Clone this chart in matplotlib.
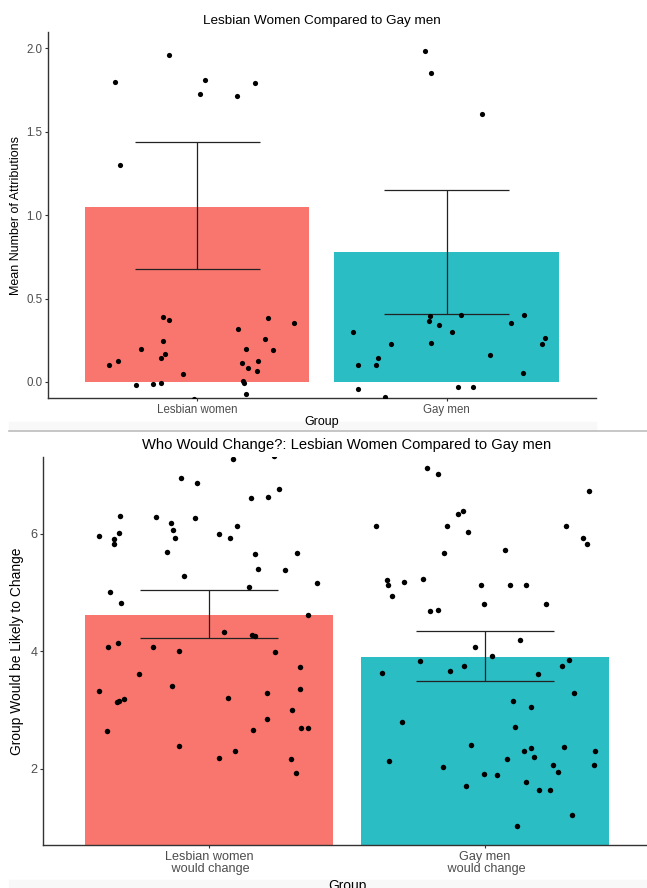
import matplotlib
matplotlib.use("Agg")
import matplotlib.pyplot as plt
from matplotlib.patches import Rectangle
from matplotlib.lines import Line2D
import numpy as np

plt.rcParams["font.family"] = ["Liberation Sans", "DejaVu Sans"]

W, H = 647, 888
RED = "#F8766D"
TEAL = "#2BBDC4"

# ── top panel: mean number of attributions ──
top_groups = ["Lesbian women", "Gay men"]
top_means = [1.05, 0.78]
top_lower = [0.68, 0.406]
top_upper = [1.44, 1.153]

top_lw_dx = [-0.331, -0.114, 0.029, 0.011, 0.160, 0.232, -0.312,
             -0.355, -0.318, -0.227, -0.137, -0.114, -0.138, -0.130, -0.144,
             -0.058, -0.247, -0.176, -0.144, -0.015, 0.163, 0.282, 0.386,
             0.272, 0.197, 0.304, 0.180, 0.243, 0.205, 0.240, 0.185, 0.189, 0.197]
top_lw_y = [1.797, 1.962, 1.812, 1.728, 1.715, 1.794, 1.299,
            0.100, 0.126, 0.196, 0.388, 0.374, 0.244, 0.166, 0.142,
            0.046, -0.018, -0.012, -0.008, -0.100, 0.316, 0.385, 0.356,
            0.256, 0.200, 0.194, 0.112, 0.126, 0.086, 0.068, 0.008, -0.004, -0.074]

top_gm_dx = [-0.088, -0.062, 0.143, -0.377, -0.357, -0.285, -0.274, -0.222,
             -0.355, -0.246, -0.066, -0.071, -0.031, 0.056, 0.021, -0.064,
             0.174, 0.045, 0.104, 0.258, 0.309, 0.394, 0.382, 0.307]
top_gm_y = [1.984, 1.854, 1.605, 0.302, 0.104, 0.102, 0.144, 0.226,
            -0.042, -0.092, 0.396, 0.364, 0.340, 0.400, 0.298, 0.232,
            0.160, -0.028, -0.028, 0.354, 0.400, 0.266, 0.226, 0.052]
top_yticks = [0.0, 0.5, 1.0, 1.5, 2.0]

# ── bottom panel: who would change ──
bot_groups = ["Lesbian women\n would change", "Gay men\n would change"]
bot_means = [4.615, 3.908]
bot_lower = [4.220, 3.485]
bot_upper = [5.034, 4.339]

bot_lw_dx = [-0.399, -0.345, -0.345, -0.327, -0.323, -0.359, -0.318, -0.192,
             -0.136, -0.129, -0.122, -0.153, -0.100, -0.042, -0.052, -0.091,
             0.035, 0.076, 0.103, 0.086, 0.154, 0.214, 0.255, 0.165, 0.178,
             0.146, 0.274, 0.320, 0.390, 0.357, 0.054, 0.156, 0.166, -0.366,
             -0.331, -0.204, -0.107, 0.238, 0.235,
             -0.399, -0.368, -0.332, -0.327, -0.308, -0.252, -0.134, -0.110,
             0.035, 0.069, 0.094, 0.158, 0.209, 0.212, 0.301, 0.297, 0.314,
             0.328, 0.331, 0.335, 0.359]
bot_lw_y = [5.959, 5.903, 5.824, 6.005, 6.293, 5.010, 4.819, 6.281,
            6.186, 6.056, 5.920, 5.683, 6.949, 6.869, 6.264, 5.276,
            5.993, 5.932, 6.124, 7.264, 6.610, 6.632, 6.763, 5.649, 5.390,
            5.095, 5.373, 5.666, 5.163, 4.615, 4.332, 4.271, 4.259, 4.068,
            4.141, 4.073, 4.010, 3.983, 7.330,
            3.327, 2.637, 3.129, 3.146, 3.192, 3.610, 3.400, 2.383,
            2.180, 3.197, 2.305, 2.661, 3.281, 2.847, 3.000, 2.169, 1.932,
            3.356, 3.722, 2.688, 2.688]

bot_gm_dx = [-0.211, -0.171, 0.375, -0.395, -0.137, -0.099, -0.080, -0.060,
             0.295, 0.354, 0.371, -0.149, 0.074, -0.355, -0.350, -0.295,
             -0.224, -0.337, -0.014, 0.090, 0.149, -0.005, 0.219, -0.201,
             -0.170, 0.127, -0.036, 0.024, -0.234, 0.303,
             -0.373, -0.126, -0.077, 0.193, 0.279, 0.324, 0.101, 0.167,
             -0.299, 0.108, -0.050, 0.141, 0.166, 0.285, 0.398, -0.349,
             0.080, 0.179, -0.152, -0.004, 0.044, 0.245, 0.266, 0.394,
             0.150, -0.068, 0.196, 0.234, 0.316, 0.114]
bot_gm_y = [7.112, 7.010, 6.729, 6.124, 6.124, 6.327, 6.378, 6.034,
            6.136, 5.926, 5.819, 5.678, 5.722, 5.208, 5.129, 5.180,
            5.225, 4.942, 5.124, 5.124, 5.119, 4.797, 4.797, 4.689,
            4.700, 4.186, 4.073, 3.920, 3.836, 3.847,
            3.627, 3.661, 3.739, 3.610, 3.739, 3.288, 3.146, 3.056,
            2.797, 2.712, 2.400, 2.305, 2.349, 2.373, 2.305, 2.129,
            2.169, 2.197, 2.027, 1.903, 1.886, 2.061, 1.937, 2.056,
            1.768, 1.700, 1.644, 1.632, 1.208, 1.027]
bot_yticks = [2, 4, 6]


def px_rect(left, top, right, bottom):
	"""pixel box (y down) → figure fraction [l, b, w, h]."""
	return [left / W, 1 - bottom / H, (right - left) / W, (bottom - top) / H]


def draw_panel(ax, groups, means, lower, upper, points, ylim, yticks, title, ylabel, scale):
	pos = np.arange(1, len(groups) + 1)
	ax.bar(pos, means, width=0.9, color=[RED, TEAL], zorder=1)
	ax.vlines(pos, lower, upper, color="#222222", lw=0.9, zorder=2)
	ax.hlines(lower, pos - 0.25, pos + 0.25, color="#222222", lw=0.9, zorder=2)
	ax.hlines(upper, pos - 0.25, pos + 0.25, color="#222222", lw=0.9, zorder=2)
	for p, (dx, y) in zip(pos, points):
		ax.scatter(p + np.array(dx), y, s=14 * scale, color="black", linewidths=0, zorder=3)
	ax.set_xlim(0.4, len(groups) + 0.6)
	ax.set_ylim(*ylim)
	ax.set_xticks(pos)
	ax.set_xticklabels(groups)
	ax.set_yticks(yticks)
	for side in ("top", "right"):
		ax.spines[side].set_visible(False)
	for side in ("left", "bottom"):
		ax.spines[side].set_color("#333333")
		ax.spines[side].set_linewidth(1.0)
	ax.tick_params(length=2.5, width=0.8, color="#333333", labelcolor="#4D4D4D",
		labelsize=8.3 * scale, pad=1.5)
	ax.set_title(title, fontsize=9.7 * scale, color="black", pad=6)
	ax.set_ylabel(ylabel, fontsize=9.0 * scale)
	ax.set_xlabel("Group", fontsize=9.0 * scale)


fig = plt.figure(figsize=(W / 100, H / 100), dpi=100)

# viewer strips and divider between the two screenshots
fig.patches.append(Rectangle((9 / W, 1 - 430 / H), (596 - 9) / W, 8 / H,
	transform=fig.transFigure, color="#F8F8F8", zorder=-5))
fig.patches.append(Rectangle((9 / W, 0), (W - 9) / W, 8 / H,
	transform=fig.transFigure, color="#F8F8F8", zorder=-5))
fig.lines.append(Line2D([9 / W, 1], [1 - 430.5 / H] * 2, transform=fig.transFigure,
	color="#BDBDBD", lw=1.2, zorder=-4))

ax1 = fig.add_axes(px_rect(47.7, 32, 596.2, 398.3))
ax1.patch.set_alpha(0)
draw_panel(ax1, top_groups, top_means, top_lower, top_upper,
	[(top_lw_dx, top_lw_y), (top_gm_dx, top_gm_y)],
	(-0.098, 2.098), top_yticks, "Lesbian Women Compared to Gay men",
	"Mean Number of Attributions", 1.0)
ax1.set_yticklabels([f"{v:.1f}" for v in top_yticks])
ax1.yaxis.set_label_coords(-0.046, 0.5)
ax1.xaxis.set_label_coords(0.5, -0.049)

ax2 = fig.add_axes(px_rect(43.3, 457.3, 650.7, 845))
ax2.patch.set_alpha(0)
draw_panel(ax2, bot_groups, bot_means, bot_lower, bot_upper,
	[(bot_lw_dx, bot_lw_y), (bot_gm_dx, bot_gm_y)],
	(0.7, 7.3), bot_yticks, "Who Would Change?: Lesbian Women Compared to Gay men",
	"Group Would be Likely to Change", 1.1)
for lab in ax2.get_xticklabels():
	lab.set_linespacing(1.0)
ax2.yaxis.set_label_coords(-0.032, 0.5)
ax2.xaxis.set_label_coords(0.5, -0.087)

fig.savefig("out.png", dpi=100)
